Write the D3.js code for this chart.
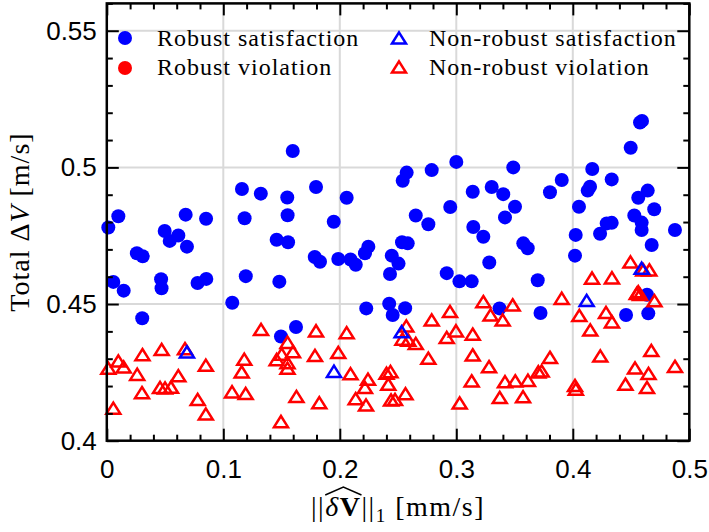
<!DOCTYPE html>
<html>
<head>
<meta charset="utf-8">
<script src="https://cdnjs.cloudflare.com/ajax/libs/d3/7.8.5/d3.min.js"></script>
<style>
  body { margin: 0; background: #fff; }
  svg { display: block; }
</style>
</head>
<body>
<svg id="chart" width="709" height="532"></svg>
<script>
// Robust satisfaction runs (filled blue circles)
const robustSatX = [0.0013,0.0099,0.0056,0.0145,0.0258,0.0308,0.0304,0.0497,0.0540,0.0614,0.0688,0.0677,0.0852,0.0466,0.0470,0.0779,0.0854,0.1077,0.1160,0.1322,0.1549,0.1183,0.1552,0.1458,0.1556,0.1193,0.1481,0.1596,0.1495,0.1624,0.1796,0.2059,0.1948,0.1785,0.1830,0.1987,0.2092,0.2137,0.2245,0.2216,0.2227,0.2424,0.2454,0.2561,0.2574,0.2540,0.2789,0.3000,0.2652,0.2760,0.2948,0.3141,0.3304,0.3146,0.3232,0.2534,0.2583,0.2446,0.2504,0.2431,0.2918,0.3027,0.3132,0.3283,0.3371,0.3723,0.3489,0.3403,0.3504,0.3418,0.3804,0.3905,0.3575,0.3613,0.3699,0.4167,0.4148,0.4128,0.4334,0.4053,0.4025,0.4019,0.4291,0.4334,0.4234,0.4457,0.4577,0.4594,0.4497,0.4643,0.4562,0.4699,0.4528,0.4591,0.4591,0.4877,0.4677,0.4637,0.4648];
const robustSatY = [0.4780,0.4821,0.4581,0.4549,0.4686,0.4675,0.4448,0.4767,0.4731,0.4751,0.4710,0.4827,0.4812,0.4591,0.4558,0.4577,0.4592,0.4505,0.4921,0.4904,0.4890,0.4814,0.4825,0.4735,0.4726,0.4602,0.4582,0.5060,0.4381,0.4416,0.4928,0.4889,0.4801,0.4672,0.4655,0.4665,0.4663,0.4644,0.4710,0.4686,0.4484,0.4501,0.4460,0.4485,0.4981,0.4951,0.4990,0.5020,0.4824,0.4792,0.4855,0.4911,0.4928,0.4782,0.4746,0.4726,0.4722,0.4677,0.4648,0.4610,0.4613,0.4583,0.4583,0.4652,0.4484,0.4467,0.5000,0.4902,0.4856,0.4817,0.4909,0.4954,0.4722,0.4704,0.4587,0.4994,0.4929,0.4915,0.4956,0.4856,0.4753,0.4677,0.4795,0.4797,0.4757,0.4460,0.5164,0.5170,0.5072,0.4915,0.4889,0.4847,0.4824,0.4798,0.4771,0.4771,0.4716,0.4534,0.4466];

// Robust violation runs (filled red circles) - none occurred
const robustViolX = [];
const robustViolY = [];

// Non-robust satisfaction runs (blue open triangles)
const nonRobustSatX = [0.0688,0.1950,0.2531,0.4119,0.4591];
const nonRobustSatY = [0.4325,0.4254,0.4399,0.4513,0.4631];

// Non-robust violation runs (red open triangles)
const nonRobustViolX = [0.0013,0.0099,0.0145,0.0056,0.0261,0.0306,0.0302,0.0457,0.0500,0.0551,0.0471,0.0614,0.0671,0.0850,0.0780,0.0850,0.1075,0.1180,0.1158,0.1192,0.1324,0.1551,0.1501,0.1598,0.1458,0.1551,0.1551,0.1495,0.1628,0.1796,0.1787,0.1824,0.1987,0.2059,0.2092,0.2136,0.2242,0.2216,0.2225,0.2401,0.2435,0.2416,0.2440,0.2474,0.2564,0.2571,0.2538,0.2588,0.2652,0.2789,0.2946,0.2997,0.2918,0.3141,0.2760,0.3141,0.3132,0.3029,0.3232,0.3294,0.3398,0.3281,0.3373,0.3418,0.3506,0.3573,0.3615,0.3704,0.3733,0.3804,0.3484,0.3905,0.4056,0.4150,0.4165,0.4336,0.4285,0.4336,0.4236,0.4019,0.4026,0.4495,0.4605,0.4657,0.4562,0.4577,0.4549,0.4701,0.4674,0.4534,0.4650,0.4452,0.4637,0.4877];
const nonRobustViolY = [0.4265,0.4292,0.4270,0.4119,0.4243,0.4315,0.4176,0.4195,0.4193,0.4196,0.4334,0.4238,0.4337,0.4276,0.4151,0.4098,0.4179,0.4298,0.4252,0.4173,0.4407,0.4360,0.4317,0.4326,0.4297,0.4286,0.4265,0.4070,0.4162,0.4402,0.4312,0.4139,0.4323,0.4395,0.4245,0.4154,0.4225,0.4195,0.4131,0.4247,0.4253,0.4207,0.4149,0.4151,0.4172,0.4420,0.4372,0.4368,0.4356,0.4442,0.4473,0.4402,0.4378,0.4390,0.4302,0.4314,0.4219,0.4138,0.4509,0.4460,0.4442,0.4271,0.4158,0.4216,0.4219,0.4161,0.4221,0.4252,0.4255,0.4305,0.4497,0.4521,0.4458,0.4405,0.4595,0.4596,0.4469,0.4435,0.4310,0.4202,0.4189,0.4654,0.4625,0.4625,0.4545,0.4535,0.4539,0.4512,0.4330,0.4266,0.4246,0.4207,0.4195,0.4272];

const xTicks = [0, 0.1, 0.2, 0.3, 0.4, 0.5];
const xTickLabels = ["0", "0.1", "0.2", "0.3", "0.4", "0.5"];
const yTicks = [0.4, 0.45, 0.5, 0.55];
const yTickLabels = ["0.4", "0.45", "0.5", "0.55"];
const legendLabels = ["Robust satisfaction", "Robust violation", "Non-robust satisfaction", "Non-robust violation"];

const BLUE = "#0000ff", RED = "#ff0000";
const SERIF = "'Liberation Serif', 'Times New Roman', serif";
const SANS = "'Liberation Sans', Arial, Helvetica, sans-serif";
const TRI_STROKE = 2.5;

const svg = d3.select("#chart");
const L = 106.8, R = 689.3, T = 3.4, B = 440.7;
const x = d3.scaleLinear().domain([0, 0.5]).range([L, R]);
const y = d3.scaleLinear().domain([0.4, 0.56]).range([B, T]);

// grid lines at interior major ticks
const grid = svg.append("g");
grid.selectAll("line.vx").data(xTicks.filter(v => v > 0 && v < 0.5)).join("line")
  .attr("x1", d => x(d)).attr("x2", d => x(d)).attr("y1", T).attr("y2", B)
  .attr("stroke", "#d9d9d9").attr("stroke-width", 2);
grid.selectAll("line.hy").data(yTicks.filter(v => v > 0.4)).join("line")
  .attr("x1", L).attr("x2", R).attr("y1", d => y(d)).attr("y2", d => y(d))
  .attr("stroke", "#d9d9d9").attr("stroke-width", 2);

// triangle marker, centred at mid-height
const tri = (w, h) => `M0,${-h}L${w},${h}L${-w},${h}Z`;

// robust satisfaction
svg.append("g").selectAll("circle").data(d3.zip(robustSatX, robustSatY)).join("circle")
  .attr("cx", d => x(d[0])).attr("cy", d => y(d[1])).attr("r", 7).attr("fill", BLUE);
// robust violation
svg.append("g").selectAll("circle").data(d3.zip(robustViolX, robustViolY)).join("circle")
  .attr("cx", d => x(d[0])).attr("cy", d => y(d[1])).attr("r", 7).attr("fill", RED);
// non-robust violation
svg.append("g").selectAll("path").data(d3.zip(nonRobustViolX, nonRobustViolY)).join("path")
  .attr("d", tri(7, 5.6)).attr("transform", d => `translate(${x(d[0])},${y(d[1])})`)
  .attr("fill", "none").attr("stroke", RED).attr("stroke-width", TRI_STROKE);
// non-robust satisfaction
svg.append("g").selectAll("path").data(d3.zip(nonRobustSatX, nonRobustSatY)).join("path")
  .attr("d", tri(7, 5.6)).attr("transform", d => `translate(${x(d[0])},${y(d[1])})`)
  .attr("fill", "none").attr("stroke", BLUE).attr("stroke-width", TRI_STROKE);

// axes: inward ticks on all four sides
const xMinor = d3.range(0.02, 0.5, 0.02).filter(v => Math.abs(v * 10 - Math.round(v * 10)) > 1e-6);
const yMinor = d3.range(0.41, 0.56, 0.01).filter(v => Math.abs(v * 20 - Math.round(v * 20)) > 1e-6);

function styleAxis(g) {
  g.select(".domain").remove();
  g.selectAll(".tick line").attr("stroke", "#000").attr("stroke-width", 2);
  g.selectAll(".tick text").attr("font-family", SANS).attr("font-size", 26).attr("fill", "#000");
}

svg.append("g").attr("transform", `translate(0,${B})`)
  .call(d3.axisBottom(x).tickValues(xTicks).tickFormat((d, i) => xTickLabels[i]).tickSizeInner(-12).tickSizeOuter(0).tickPadding(19))
  .call(styleAxis);
svg.append("g").attr("transform", `translate(0,${B})`)
  .call(d3.axisBottom(x).tickValues(xMinor).tickFormat("").tickSizeInner(-6).tickSizeOuter(0))
  .call(styleAxis);
svg.append("g").attr("transform", `translate(0,${T})`)
  .call(d3.axisTop(x).tickValues(xTicks).tickFormat("").tickSizeInner(-12).tickSizeOuter(0))
  .call(styleAxis);
svg.append("g").attr("transform", `translate(0,${T})`)
  .call(d3.axisTop(x).tickValues(xMinor).tickFormat("").tickSizeInner(-6).tickSizeOuter(0))
  .call(styleAxis);

svg.append("g").attr("transform", `translate(${L},0)`)
  .call(d3.axisLeft(y).tickValues(yTicks).tickFormat((d, i) => yTickLabels[i]).tickSizeInner(-12).tickSizeOuter(0).tickPadding(10))
  .call(styleAxis);
svg.append("g").attr("transform", `translate(${L},0)`)
  .call(d3.axisLeft(y).tickValues(yMinor).tickFormat("").tickSizeInner(-6).tickSizeOuter(0))
  .call(styleAxis);
svg.append("g").attr("transform", `translate(${R},0)`)
  .call(d3.axisRight(y).tickValues(yTicks).tickFormat("").tickSizeInner(-12).tickSizeOuter(0))
  .call(styleAxis);
svg.append("g").attr("transform", `translate(${R},0)`)
  .call(d3.axisRight(y).tickValues(yMinor).tickFormat("").tickSizeInner(-6).tickSizeOuter(0))
  .call(styleAxis);

// frame
svg.append("rect").attr("x", L).attr("y", T).attr("width", R - L).attr("height", B - T)
  .attr("fill", "none").attr("stroke", "#000").attr("stroke-width", 2.5);

// y label: Total ΔV [m/s]
const ylab = svg.append("text")
  .attr("transform", `translate(29,${(T + B) / 2}) rotate(-90)`)
  .attr("text-anchor", "middle").attr("font-family", SERIF).attr("font-size", 28)
  .attr("letter-spacing", 1).attr("fill", "#000");
ylab.append("tspan").text("Total Δ");
ylab.append("tspan").attr("font-style", "italic").text("V");
ylab.append("tspan").text(" [m/s]");

// x label: ||δV̂||₁ [mm/s]
const xlab = svg.append("text")
  .attr("x", (L + R) / 2).attr("y", 516)
  .attr("text-anchor", "middle").attr("font-family", SERIF).attr("font-size", 28)
  .attr("letter-spacing", 1.5).attr("fill", "#000");
xlab.append("tspan").text("||");
xlab.append("tspan").attr("font-style", "italic").text("δ");
xlab.append("tspan").attr("font-weight", "bold").text("V");
xlab.append("tspan").text("||");
xlab.append("tspan").attr("font-size", 19).attr("dy", 6).text("1");
xlab.append("tspan").attr("dy", -6).text(" [mm/s]");
// wide hat over δV
const n = xlab.node();
const e0 = n.getExtentOfChar(2), e1 = n.getExtentOfChar(3);
const hx0 = e0.x, hx1 = e1.x + e1.width, hy = e1.y + 1;
svg.append("path")
  .attr("d", `M${hx0},${hy + 3}L${(hx0 + hx1) / 2},${hy - 5}L${hx1},${hy + 3}`)
  .attr("fill", "none").attr("stroke", "#000").attr("stroke-width", 1.4);

// legend (no frame)
const legendItems = [
  { label: legendLabels[0], kind: "circle", color: BLUE, mx: 125, my: 38, tx: 157, ty: 46 },
  { label: legendLabels[1], kind: "circle", color: RED, mx: 125, my: 68, tx: 157, ty: 75 },
  { label: legendLabels[2], kind: "tri", color: BLUE, mx: 399, my: 38, tx: 429, ty: 46 },
  { label: legendLabels[3], kind: "tri", color: RED, mx: 399, my: 67, tx: 429, ty: 75 }
];
const lg = svg.append("g");
legendItems.forEach(it => {
  if (it.kind === "circle") {
    lg.append("circle").attr("cx", it.mx).attr("cy", it.my).attr("r", 7).attr("fill", it.color);
  } else {
    lg.append("path").attr("d", tri(7, 5.6)).attr("transform", `translate(${it.mx},${it.my})`)
      .attr("fill", "none").attr("stroke", it.color).attr("stroke-width", TRI_STROKE);
  }
  lg.append("text").attr("x", it.tx).attr("y", it.ty)
    .attr("font-family", SERIF).attr("font-size", 24).attr("letter-spacing", 1)
    .attr("fill", "#000").text(it.label);
});
</script>
</body>
</html>
